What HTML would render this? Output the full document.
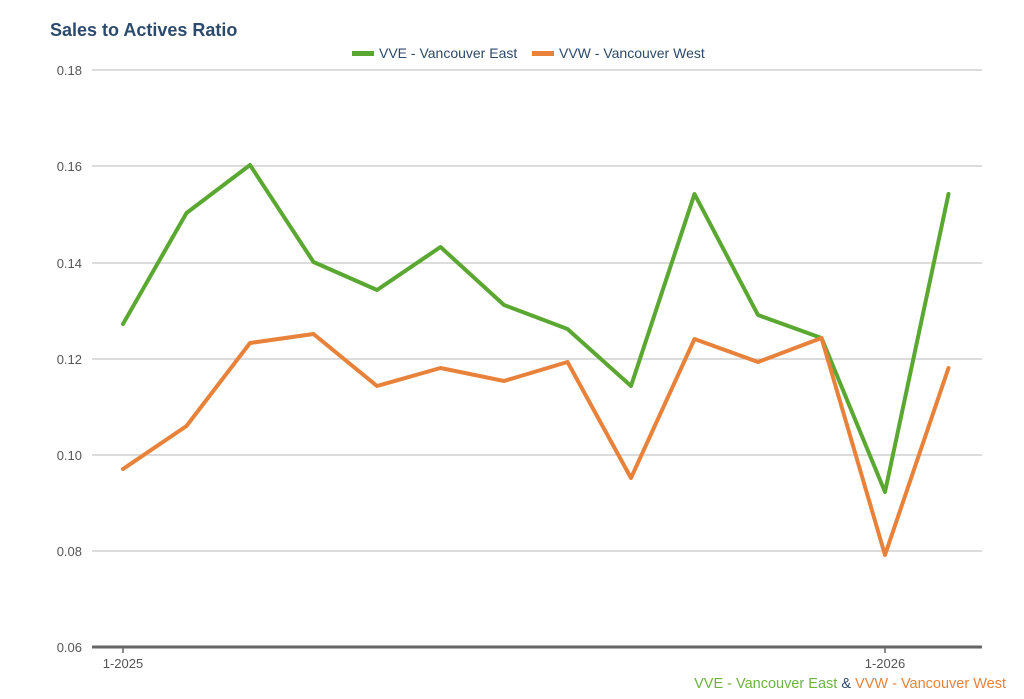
<!DOCTYPE html>
<html><head><meta charset="utf-8"><style>
body{margin:0;background:#fff;}
svg text{font-family:"Liberation Sans",Arial,sans-serif;}
</style></head><body>
<svg width="1024" height="694" viewBox="0 0 1024 694" xmlns="http://www.w3.org/2000/svg">
<rect width="1024" height="694" fill="#fff"/>
<text x="50" y="36" font-size="18" font-weight="bold" fill="#2c4a6b">Sales to Actives Ratio</text>
<rect x="352" y="51" width="22" height="5" fill="#5aa832"/>
<text x="379" y="58" font-size="14" fill="#2c4a6b">VVE - Vancouver East</text>
<rect x="532" y="51" width="22" height="5" fill="#e8823a"/>
<text x="559" y="58" font-size="14" fill="#2c4a6b">VVW - Vancouver West</text>
<g stroke="#c8c8c8" stroke-width="1.2">
<line x1="92" y1="70" x2="982" y2="70"/>
<line x1="92" y1="166" x2="982" y2="166"/>
<line x1="92" y1="263" x2="982" y2="263"/>
<line x1="92" y1="359" x2="982" y2="359"/>
<line x1="92" y1="455" x2="982" y2="455"/>
<line x1="92" y1="551" x2="982" y2="551"/>
</g>
<line x1="92" y1="647" x2="982" y2="647" stroke="#666" stroke-width="3"/>
<line x1="123" y1="647" x2="123" y2="653" stroke="#666" stroke-width="1.5"/>
<line x1="885" y1="647" x2="885" y2="653" stroke="#666" stroke-width="1.5"/>
<g font-size="13" fill="#555" text-anchor="end">
<text x="82" y="75">0.18</text>
<text x="82" y="171">0.16</text>
<text x="82" y="268">0.14</text>
<text x="82" y="364">0.12</text>
<text x="82" y="460">0.10</text>
<text x="82" y="556">0.08</text>
<text x="82" y="652">0.06</text>
</g>
<g font-size="13" fill="#555" text-anchor="middle">
<text x="123" y="668">1-2025</text>
<text x="885" y="668">1-2026</text>
</g>
<text x="1006" y="688" font-size="14.5" text-anchor="end"><tspan fill="#6cb33f">VVE - Vancouver East</tspan><tspan fill="#2c4a6b"> &amp; </tspan><tspan fill="#e8823a">VVW - Vancouver West</tspan></text>
<polyline fill="none" stroke="#5aa832" stroke-width="4" stroke-linejoin="round" stroke-linecap="round" points="123,324 186.5,213 250,165 313.5,262 377,290 440.5,247 504,305 567.5,329 631,386 694.5,194 758,315 821.5,338 885,492 948.5,194"/>
<polyline fill="none" stroke="#e8823a" stroke-width="4" stroke-linejoin="round" stroke-linecap="round" points="123,469 186.5,426 250,343 313.5,334 377,386 440.5,368 504,381 567.5,362 631,478 694.5,339 758,362 821.5,338 885,555 948.5,368"/>
</svg>
</body></html>
